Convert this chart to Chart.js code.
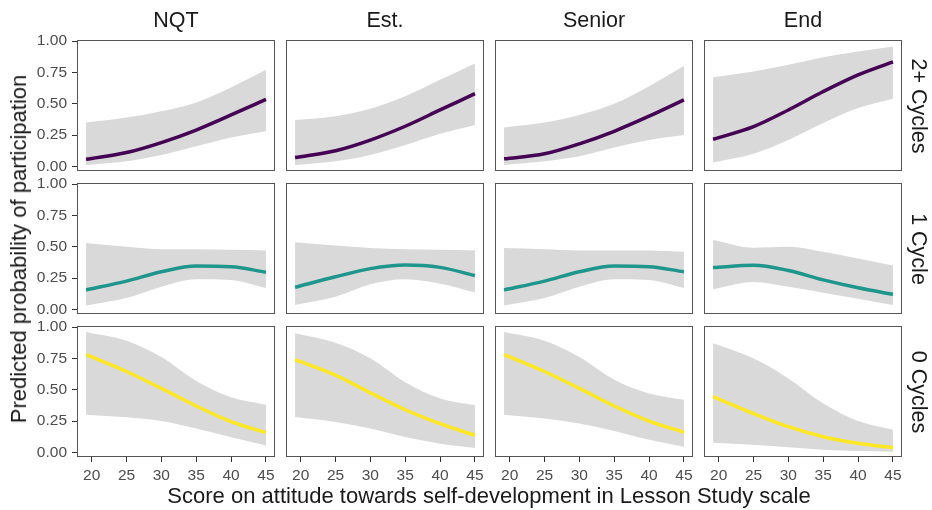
<!DOCTYPE html>
<html>
<head>
<meta charset="utf-8">
<script src="https://cdn.jsdelivr.net/npm/chart.js@4/dist/chart.umd.min.js"></script>
<style>
  body { margin: 0; background: #fff; width: 932px; height: 510px; position: relative; overflow: hidden;
         font-family: "Liberation Sans", Arial, sans-serif; }
  canvas { position: absolute; }
  .lab { position: absolute; color: #1a1a1a; white-space: nowrap; line-height: 1; }
</style>
</head>
<body>
<script>
// Facets
const careerStages = ['NQT', 'Est.', 'Senior', 'End'];
const cycleRows = ['2+ Cycles', '1 Cycle', '0 Cycles'];

// Ticks
const xTicks = [20, 25, 30, 35, 40, 45];
const yTicks = [0, 0.25, 0.5, 0.75, 1];

// Attitude score where the predictions are read
const xGrid = [19.2, 25, 30, 35, 40, 45];

// 2+ Cycles: fitted line, lower and upper band (NQT, Est., Senior, End)
const fit2 = [
  [0.056, 0.11, 0.19, 0.29, 0.41, 0.535],
  [0.07, 0.125, 0.21, 0.32, 0.45, 0.58],
  [0.06, 0.10, 0.18, 0.28, 0.40, 0.53],
  [0.216, 0.317, 0.45, 0.597, 0.73, 0.834]
];
const lo2 = [
  [0.01, 0.04, 0.09, 0.16, 0.23, 0.28],
  [0.01, 0.04, 0.09, 0.17, 0.26, 0.33],
  [0.01, 0.04, 0.08, 0.15, 0.21, 0.25],
  [0.03, 0.10, 0.21, 0.345, 0.465, 0.54]
];
const hi2 = [
  [0.35, 0.39, 0.44, 0.51, 0.63, 0.77],
  [0.37, 0.40, 0.46, 0.56, 0.69, 0.82],
  [0.31, 0.35, 0.41, 0.50, 0.64, 0.80],
  [0.71, 0.757, 0.81, 0.87, 0.917, 0.957]
];

// 1 Cycle
const fit1 = [
  [0.155, 0.225, 0.30, 0.345, 0.34, 0.296],
  [0.176, 0.26, 0.325, 0.354, 0.335, 0.27],
  [0.155, 0.225, 0.30, 0.345, 0.34, 0.30],
  [0.333, 0.352, 0.31, 0.235, 0.172, 0.12]
];
const lo1 = [
  [0.03, 0.09, 0.18, 0.24, 0.235, 0.17],
  [0.034, 0.10, 0.20, 0.24, 0.205, 0.136],
  [0.03, 0.09, 0.18, 0.24, 0.235, 0.17],
  [0.16, 0.218, 0.18, 0.133, 0.084, 0.034]
];
const hi1 = [
  [0.53, 0.50, 0.48, 0.48, 0.475, 0.47],
  [0.536, 0.51, 0.49, 0.48, 0.475, 0.47],
  [0.49, 0.48, 0.47, 0.47, 0.47, 0.46],
  [0.554, 0.492, 0.50, 0.46, 0.405, 0.35]
];

// 0 Cycles
const fit0 = [
  [0.78, 0.645, 0.51, 0.37, 0.245, 0.157],
  [0.74, 0.616, 0.475, 0.34, 0.229, 0.136],
  [0.78, 0.645, 0.51, 0.37, 0.25, 0.16],
  [0.445, 0.31, 0.205, 0.125, 0.072, 0.037]
];
const lo0 = [
  [0.30, 0.28, 0.25, 0.19, 0.12, 0.055],
  [0.283, 0.243, 0.19, 0.122, 0.069, 0.034],
  [0.30, 0.27, 0.23, 0.17, 0.10, 0.045],
  [0.077, 0.06, 0.04, 0.02, 0.01, 0.005]
];
const hi0 = [
  [0.96, 0.89, 0.76, 0.57, 0.44, 0.38],
  [0.95, 0.875, 0.75, 0.56, 0.43, 0.376],
  [0.96, 0.89, 0.76, 0.58, 0.47, 0.42],
  [0.87, 0.75, 0.59, 0.39, 0.25, 0.18]
];

const fits = [fit2, fit1, fit0];
const lows = [lo2, lo1, lo0];
const highs = [hi2, hi1, hi0];
const lineColours = ['#440154', '#1F968B', '#FDE725'];

// Layout of the facet grid (px)
const PANEL_W = 198, PANEL_H = 131;
const PANEL_X0 = 77, PANEL_Y0 = 40, STEP_X = 209, STEP_Y = 143;
const AXW = 50, AXH = 32, PAD = 10;

const tickFont = { family: '"Liberation Sans", Arial, sans-serif', size: 15.5 };

// grey frame round each panel
const panelBox = {
  id: 'panelBox',
  afterDraw(chart) {
    const { ctx, chartArea: a } = chart;
    ctx.save();
    ctx.strokeStyle = '#555';
    ctx.lineWidth = 1;
    ctx.strokeRect(a.left + 0.5, a.top + 0.5, a.width - 1, a.height - 1);
    ctx.restore();
  }
};

function toPoints(ys) {
  return ys.map((y, i) => ({ x: xGrid[i], y: y }));
}

function addLabel(text, x, y, size, rotate) {
  const d = document.createElement('div');
  d.className = 'lab';
  d.textContent = text;
  d.style.left = x + 'px';
  d.style.top = y + 'px';
  d.style.fontSize = size + 'px';
  d.style.transform = 'translate(-50%, -50%)' + (rotate ? ' rotate(' + rotate + 'deg)' : '');
  document.body.appendChild(d);
}

function drawPanel(row, col) {
  const leftCol = col === 0;
  const bottomRow = row === 2;
  const w = PANEL_W + 2 * PAD + (leftCol ? AXW : 0);
  const h = PANEL_H + 2 * PAD + (bottomRow ? AXH : 0);

  const cv = document.createElement('canvas');
  cv.width = w;
  cv.height = h;
  cv.style.width = w + 'px';
  cv.style.height = h + 'px';
  cv.style.left = (PANEL_X0 + STEP_X * col - PAD - (leftCol ? AXW : 0)) + 'px';
  cv.style.top = (PANEL_Y0 + STEP_Y * row - PAD) + 'px';
  document.body.appendChild(cv);

  const band = { borderWidth: 0, pointRadius: 0, cubicInterpolationMode: 'monotone' };

  new Chart(cv, {
    type: 'line',
    data: {
      datasets: [
        { data: toPoints(fits[row][col]), borderColor: lineColours[row], borderWidth: 3.5,
          pointRadius: 0, cubicInterpolationMode: 'monotone', fill: false, borderCapStyle: 'butt' },
        Object.assign({ data: toPoints(lows[row][col]), fill: false }, band),
        Object.assign({ data: toPoints(highs[row][col]), fill: '-1', backgroundColor: '#d9d9d9' }, band)
      ]
    },
    options: {
      responsive: false,
      animation: false,
      events: [],
      layout: { padding: PAD },
      plugins: { legend: { display: false }, tooltip: { enabled: false } },
      scales: {
        x: {
          type: 'linear', min: 17.9, max: 46.3, bounds: 'data',
          display: bottomRow,
          afterBuildTicks: s => { s.ticks = xTicks.map(v => ({ value: v })); },
          afterFit: s => { if (bottomRow) { s.height = AXH; s.paddingLeft = 0; s.paddingRight = 0; } },
          grid: { drawOnChartArea: false, drawTicks: true, tickLength: 5, color: '#333' },
          border: { display: false },
          ticks: { font: tickFont, color: '#4d4d4d', padding: 4, maxRotation: 0, autoSkip: false,
                   callback: v => String(v) }
        },
        y: {
          type: 'linear', min: -0.037, max: 1.008, bounds: 'data',
          display: leftCol,
          afterBuildTicks: s => { s.ticks = yTicks.map(v => ({ value: v })); },
          afterFit: s => { if (leftCol) { s.width = AXW; s.paddingTop = 0; s.paddingBottom = 0; } },
          grid: { drawOnChartArea: false, drawTicks: true, tickLength: 5, color: '#333' },
          border: { display: false },
          ticks: { font: tickFont, color: '#4d4d4d', padding: 5, autoSkip: false,
                   callback: v => v.toFixed(2) }
        }
      }
    },
    plugins: [panelBox]
  });
}

for (let r = 0; r < cycleRows.length; r++) {
  for (let c = 0; c < careerStages.length; c++) {
    drawPanel(r, c);
  }
}

// strip labels
careerStages.forEach((s, c) => addLabel(s, PANEL_X0 + STEP_X * c + PANEL_W / 2, 21, 21.5));
cycleRows.forEach((s, r) => addLabel(s, 918, PANEL_Y0 + STEP_Y * r + PANEL_H / 2, 21.5, 90));

// axis titles
addLabel('Predicted probability of participation', 19, 249, 22, -90);
addLabel('Score on attitude towards self-development in Lesson Study scale', 489, 496, 22);
</script>
</body>
</html>
